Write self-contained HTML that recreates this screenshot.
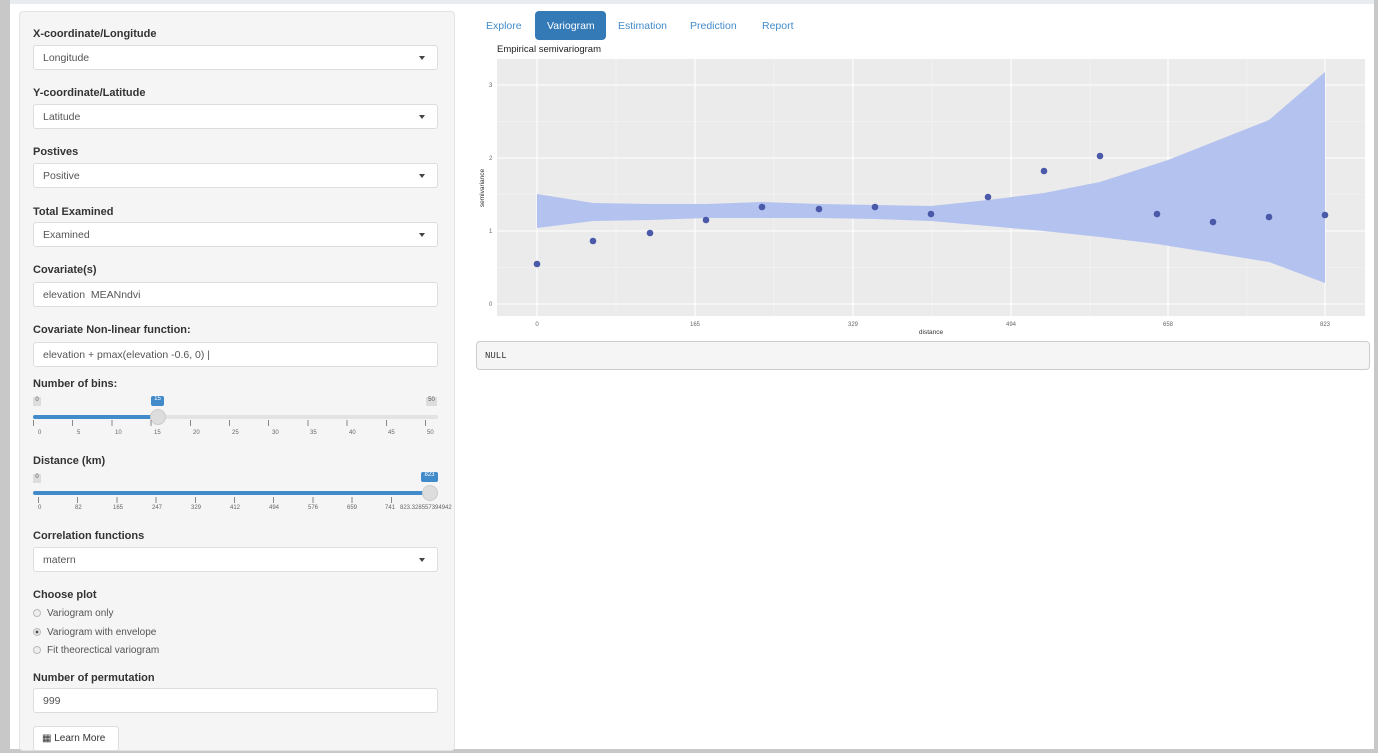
<!DOCTYPE html>
<html><head><meta charset="utf-8"><style>
*{box-sizing:border-box;margin:0;padding:0}
body{width:1378px;height:753px;position:relative;background:#fff;font-family:"Liberation Sans",sans-serif;overflow:hidden;color:#333}
.a{position:absolute}
.lbl{position:absolute;left:33px;font-size:11px;font-weight:bold;color:#333}
.inp{position:absolute;left:33px;width:405px;height:25px;background:#fff;border:1px solid #ddd;border-radius:3px;font-size:10.5px;color:#555;padding:6px 9px}
.car{position:absolute;right:12px;top:10px;width:0;height:0;border-left:3.5px solid transparent;border-right:3.5px solid transparent;border-top:4px solid #444}
.tick{position:absolute;font-size:6px;color:#666}
.rad{position:absolute;left:33px;font-size:10px;color:#555}
.rad i{display:inline-block;width:8px;height:8px;border-radius:50%;border:1px solid #bbb;background:#eee;margin-right:6px;vertical-align:-1px}
</style></head><body>
<div class="a" style="left:0;top:0;width:1378px;height:4px;background:#e8ebef"></div>
<div class="a" style="left:0;top:0;width:10px;height:753px;background:#c8c8c8"></div>
<div class="a" style="left:1374px;top:0;width:4px;height:753px;background:#c8c8c8"></div>
<div class="a" style="left:0;top:749px;width:1378px;height:4px;background:#c8c8c8"></div>
<div class="a" style="left:19px;top:11px;width:436px;height:740px;background:#f5f5f5;border:1px solid #e3e3e3;border-radius:4px"></div>

<div class="lbl" style="top:28px">X-coordinate/Longitude</div>
<div class="inp" style="top:45px">Longitude<span class="car"></span></div>
<div class="lbl" style="top:87px">Y-coordinate/Latitude</div>
<div class="inp" style="top:104px">Latitude<span class="car"></span></div>
<div class="lbl" style="top:146px">Postives</div>
<div class="inp" style="top:163px">Positive<span class="car"></span></div>
<div class="lbl" style="top:206px">Total Examined</div>
<div class="inp" style="top:222px">Examined<span class="car"></span></div>
<div class="lbl" style="top:264px">Covariate(s)</div>
<div class="inp" style="top:282px">elevation &nbsp;MEANndvi</div>
<div class="lbl" style="top:324px">Covariate Non-linear function:</div>
<div class="inp" style="top:342px">elevation + pmax(elevation -0.6, 0) |</div>

<div class="lbl" style="top:378px">Number of bins:</div>
<div class="a" style="left:33px;top:397px;width:8px;height:9px;background:#ddd;font-size:6px;text-align:center;color:#555">0</div>
<div class="a" style="left:151px;top:396px;width:13px;height:10px;background:#428bca;font-size:6px;color:#fff;text-align:center;border-radius:2px">15</div>
<div class="a" style="left:426px;top:397px;width:11px;height:9px;background:#ddd;font-size:6px;text-align:center;color:#555">50</div>
<div class="a" style="left:33px;top:415px;width:405px;height:4px;background:#e3e3e3;border-radius:2px"></div>
<div class="a" style="left:33px;top:415px;width:125px;height:4px;background:#428bca;border-radius:2px"></div>
<div class="a" style="left:150px;top:409px;width:16px;height:16px;border-radius:50%;background:#ddd;border:1px solid #ccc"></div>
<div class="a" style="left:33px;top:420px;width:405px;height:6px;background:repeating-linear-gradient(90deg,#888 0 1px,transparent 1px 39.2px)"></div>
<div class="tick" style="left:38px;top:430px">0</div><div class="tick" style="left:77px;top:430px">5</div><div class="tick" style="left:115px;top:430px">10</div><div class="tick" style="left:154px;top:430px">15</div><div class="tick" style="left:193px;top:430px">20</div><div class="tick" style="left:232px;top:430px">25</div><div class="tick" style="left:272px;top:430px">30</div><div class="tick" style="left:310px;top:430px">35</div><div class="tick" style="left:349px;top:430px">40</div><div class="tick" style="left:388px;top:430px">45</div><div class="tick" style="left:427px;top:430px">50</div>

<div class="lbl" style="top:455px">Distance (km)</div>
<div class="a" style="left:33px;top:474px;width:8px;height:9px;background:#ddd;font-size:6px;text-align:center;color:#555">0</div>
<div class="a" style="left:421px;top:472px;width:17px;height:10px;background:#428bca;font-size:6px;color:#fff;text-align:center;border-radius:2px">823</div>
<div class="a" style="left:33px;top:491px;width:400px;height:4px;background:#428bca;border-radius:2px"></div>
<div class="a" style="left:422px;top:485px;width:16px;height:16px;border-radius:50%;background:#ddd;border:1px solid #ccc"></div>
<div class="a" style="left:38px;top:497px;width:392px;height:6px;background:repeating-linear-gradient(90deg,#888 0 1px,transparent 1px 39.2px)"></div>
<div class="tick" style="left:38px;top:505px">0</div><div class="tick" style="left:75px;top:505px">82</div><div class="tick" style="left:113px;top:505px">165</div><div class="tick" style="left:152px;top:505px">247</div><div class="tick" style="left:191px;top:505px">329</div><div class="tick" style="left:230px;top:505px">412</div><div class="tick" style="left:269px;top:505px">494</div><div class="tick" style="left:308px;top:505px">576</div><div class="tick" style="left:347px;top:505px">659</div><div class="tick" style="left:385px;top:505px">741</div><div class="tick" style="left:400px;top:505px">823.328557394942</div>

<div class="lbl" style="top:530px">Correlation functions</div>
<div class="inp" style="top:547px">matern<span class="car"></span></div>
<div class="lbl" style="top:589px">Choose plot</div>
<div class="rad" style="top:608px"><i></i>Variogram only</div>
<div class="rad" style="top:627px"><i style="background:radial-gradient(#555 30%,#eee 40%)"></i>Variogram with envelope</div>
<div class="rad" style="top:645px"><i></i>Fit theorectical variogram</div>
<div class="lbl" style="top:672px">Number of permutation</div>
<div class="inp" style="top:688px">999</div>
<div class="a" style="left:33px;top:726px;width:86px;height:25px;background:#fff;border:1px solid #ddd;border-radius:3px;font-size:10px;color:#333;padding:6px 8px">&#9638; Learn More</div>

<div class="a" style="left:476px;top:11px;width:60px;height:28px;font-size:10.5px;color:#428bca;padding:9px 10px">Explore</div>
<div class="a" style="left:535px;top:11px;width:71px;height:29px;background:#337ab7;border-radius:4px;font-size:10.5px;color:#fff;padding:9px 12px">Variogram</div>
<div class="a" style="left:618px;top:20px;font-size:10.5px;color:#428bca">Estimation</div>
<div class="a" style="left:690px;top:20px;font-size:10.5px;color:#428bca">Prediction</div>
<div class="a" style="left:762px;top:20px;font-size:10.5px;color:#428bca">Report</div>

<svg class="a" style="left:0;top:0" width="1378" height="340">
<text x="497" y="52" font-size="9.5" fill="#222" font-family="Liberation Sans">Empirical semivariogram</text>
<rect x="497" y="59" width="868" height="257" fill="#ebebeb"/>
<g stroke="#f5f5f5" stroke-width="0.6"><line x1="497" x2="1365" y1="267.5" y2="267.5"/><line x1="497" x2="1365" y1="194.5" y2="194.5"/><line x1="497" x2="1365" y1="121.5" y2="121.5"/>
<line x1="616" x2="616" y1="59" y2="316"/><line x1="774" x2="774" y1="59" y2="316"/><line x1="932" x2="932" y1="59" y2="316"/><line x1="1090" x2="1090" y1="59" y2="316"/><line x1="1247" x2="1247" y1="59" y2="316"/></g>
<g stroke="#fff" stroke-width="1.1"><line x1="497" x2="1365" y1="304" y2="304"/><line x1="497" x2="1365" y1="231" y2="231"/><line x1="497" x2="1365" y1="158" y2="158"/><line x1="497" x2="1365" y1="85" y2="85"/>
<line x1="537" x2="537" y1="59" y2="316"/><line x1="695" x2="695" y1="59" y2="316"/><line x1="853" x2="853" y1="59" y2="316"/><line x1="1011" x2="1011" y1="59" y2="316"/><line x1="1168" x2="1168" y1="59" y2="316"/><line x1="1325" x2="1325" y1="59" y2="316"/></g>
<polygon fill="#b3c2ef" points="537,194 593,203 650,204 706,204 762,202 819,204 875,205 931,206 988,200 1044,193 1100,182 1168,160 1269,120 1325,72 1325,283 1269,262 1213,253 1157,244 1100,237 1044,231 988,226 931,221 875,219 819,218 762,218 706,218 650,220 593,221 537,228"/>
<g fill="#4a5aa8"><circle cx="537" cy="264" r="3.3"/><circle cx="593" cy="241" r="3.3"/><circle cx="650" cy="233" r="3.3"/><circle cx="706" cy="220" r="3.3"/><circle cx="762" cy="207" r="3.3"/><circle cx="819" cy="209" r="3.3"/><circle cx="875" cy="207" r="3.3"/><circle cx="931" cy="214" r="3.3"/><circle cx="988" cy="197" r="3.3"/><circle cx="1044" cy="171" r="3.3"/><circle cx="1100" cy="156" r="3.3"/><circle cx="1157" cy="214" r="3.3"/><circle cx="1213" cy="222" r="3.3"/><circle cx="1269" cy="217" r="3.3"/><circle cx="1325" cy="215" r="3.3"/></g>
<g font-size="6" fill="#666" font-family="Liberation Sans"><text x="489" y="306">0</text><text x="489" y="233">1</text><text x="489" y="160">2</text><text x="489" y="87">3</text>
<g text-anchor="middle"><text x="537" y="326">0</text><text x="695" y="326">165</text><text x="853" y="326">329</text><text x="1011" y="326">494</text><text x="1168" y="326">658</text><text x="1325" y="326">823</text></g></g>
<text x="931" y="334" font-size="6.5" fill="#333" text-anchor="middle" font-family="Liberation Sans">distance</text>
<text transform="translate(484,188) rotate(-90)" font-size="6.5" fill="#333" text-anchor="middle" font-family="Liberation Sans">semivariance</text>
</svg>
<div class="a" style="left:476px;top:341px;width:894px;height:29px;background:#f5f5f5;border:1px solid #ccc;border-radius:4px;font-family:'Liberation Mono',monospace;font-size:9px;color:#333;padding:9px 8px">NULL</div>
</body></html>
